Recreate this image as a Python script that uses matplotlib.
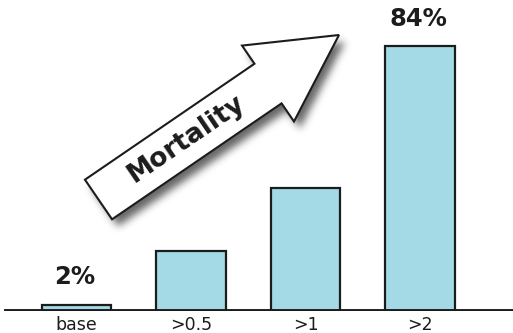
import matplotlib

matplotlib.use('Agg')
import matplotlib.pyplot as plt
import numpy as np
from matplotlib.patches import Polygon
from matplotlib.path import Path

categories = ['base', '>0.5', '>1', '>2']
mortality = [2, 19, 39, 84]
value_labels = ['2%', '', '', '84%']

W, H = 513, 333
BAR_COLOR = '#a3dae5'
INK = '#1c1c1c'


def arrow_outline(tail, tip, shaft_half, head_half, head_len):
    """Block arrow polygon in pixel coords (y pointing down)."""
    tail = np.asarray(tail, float)
    tip = np.asarray(tip, float)
    u = (tip - tail) / np.linalg.norm(tip - tail)
    n = np.array([u[1], -u[0]])
    base = tip - u * head_len
    return np.array([
        tail + n * shaft_half,
        base + n * shaft_half,
        base + n * head_half,
        tip,
        base - n * head_half,
        base - n * shaft_half,
        tail - n * shaft_half,
    ])


def blurred_mask(poly, sigma):
    yy, xx = np.mgrid[0:H, 0:W] + 0.5
    inside = Path(poly).contains_points(np.c_[xx.ravel(), yy.ravel()])
    mask = inside.reshape(H, W).astype(float)
    r = int(3 * sigma)
    k = np.exp(-0.5 * (np.arange(-r, r + 1) / sigma) ** 2)
    k /= k.sum()
    mask = np.apply_along_axis(lambda v: np.convolve(v, k, mode='same'), 0, mask)
    mask = np.apply_along_axis(lambda v: np.convolve(v, k, mode='same'), 1, mask)
    return mask


fig = plt.figure(figsize=(W / 100, H / 100), dpi=100)

# bar chart: baseline 23 px above the bottom, 84% bar top at 46 px from the top
ax = fig.add_axes([0, 22 / H, 1, 311 / H])
x = np.arange(len(categories))
ax.bar(x, mortality, width=0.61, color=BAR_COLOR, edgecolor=INK, linewidth=1.6, zorder=2)
ax.set_xlim(-76.5 / 114.5, (W - 76.5) / 114.5)
ax.set_ylim(0, 311 * 84 / 265)
for side in ['top', 'right', 'left', 'bottom']:
    ax.spines[side].set_visible(False)
ax.axhline(0, xmin=6 / W, xmax=1, color=INK, linewidth=2.8, zorder=3)
ax.set_yticks([])
ax.set_xticks(x)
ax.set_xticklabels(categories, fontsize=12.5, color=INK)
ax.tick_params(axis='x', length=0, pad=3.5)
for xi, v, lab in zip(x, mortality, value_labels):
    if lab:
        ax.annotate(lab, (xi, v), xytext=(-1, 11), textcoords='offset points',
                    ha='center', va='bottom', fontsize=17.5, fontweight='bold', color=INK)

# "Mortality" block arrow with soft drop shadow, drawn in pixel space
ov = fig.add_axes([0, 0, 1, 1], zorder=5)
ov.set_xlim(0, W)
ov.set_ylim(H, 0)
ov.axis('off')
tail, tip = (98.5, 199.5), (339.0, 35.0)
poly = arrow_outline(tail, tip, shaft_half=24, head_half=46, head_len=86)
shadow = blurred_mask(poly + np.array([6, 7]), sigma=4)
rgba = np.zeros((H, W, 4))
rgba[..., 3] = shadow * 0.6
ov.imshow(rgba, extent=(0, W, H, 0), aspect='auto', interpolation='bilinear', zorder=1)
ov.add_patch(Polygon(poly, closed=True, facecolor='white', edgecolor=INK,
                     linewidth=1.5, joinstyle='miter', zorder=2))
ang = np.degrees(np.arctan2(tail[1] - tip[1], tip[0] - tail[0]))
ov.text(186, 139, 'Mortality', rotation=ang, rotation_mode='anchor', ha='center', va='center',
        fontsize=19, fontweight='bold', color=INK, zorder=3)

fig.savefig('out.png', dpi=100)
